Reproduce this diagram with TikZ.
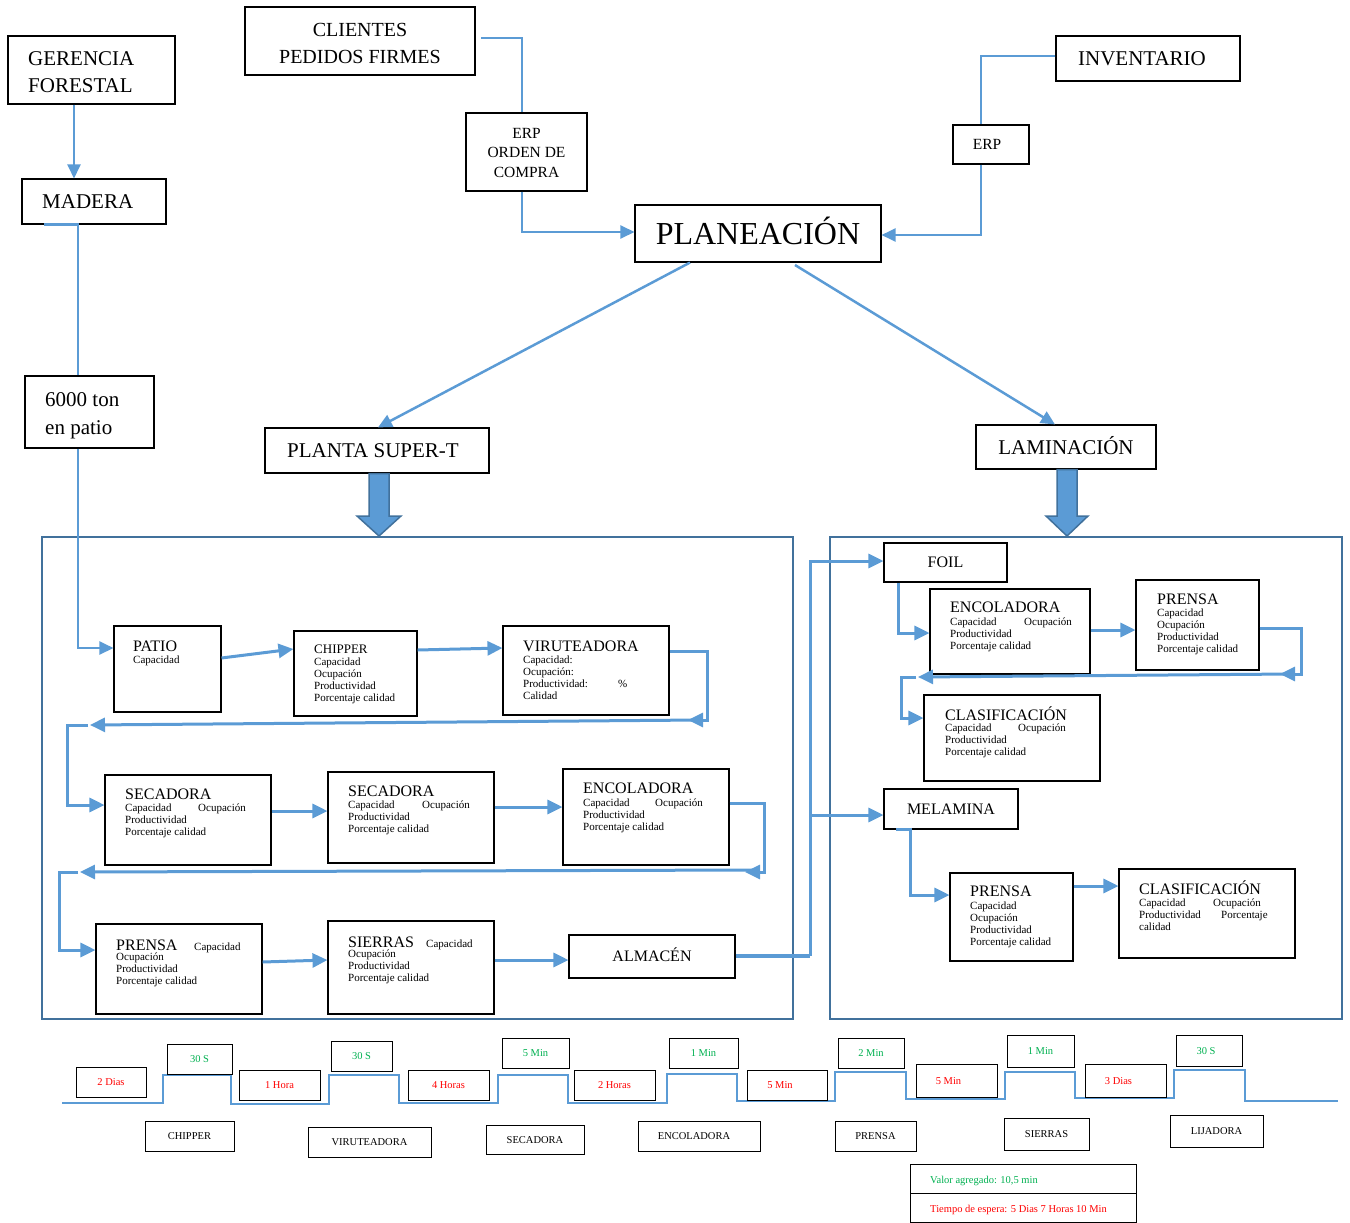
\documentclass[tikz,border=0pt]{standalone}
\usepackage{fontspec}
\setmainfont{Liberation Serif}
\usetikzlibrary{arrows.meta,fit,calc}
\definecolor{cblue}{HTML}{5B9BD5}
\definecolor{cdark}{HTML}{41719C}
\definecolor{cgreen}{HTML}{00B050}
\definecolor{cred}{HTML}{FF0000}
\tikzset{
  bx/.style={draw=black, line width=1.1pt, inner sep=0pt},
  cont/.style={draw=cdark, line width=2pt, inner sep=0pt},
  tbx/.style={draw=black, line width=1pt, inner sep=0pt},
  ctr/.style={inner sep=0pt, text depth=0pt},
  lnk/.style={draw=cblue, line width=2.5pt},
  conn/.style={draw=cblue, line width=2.5pt, -{Triangle[length=14pt,width=13pt]}},
  fconn/.style={draw=cblue, line width=3pt, -{Triangle[length=15pt,width=14pt]}},
  blockarrow/.style={fill=cblue, draw=cdark, line width=1.5pt, line join=miter},
}
\newcommand{\ttlx}[4][16]{\node[anchor=base west, inner sep=0pt, font=\fontsize{#1}{#1}\selectfont] (#2) at (#3) {#4};}
\newcommand{\bodyx}[3]{\node[anchor=north west, inner sep=0pt, align=left, font=\fontsize{11}{12}\selectfont] (#1) at (#2) {#3};}
\newcommand{\tbox}[5][0]{\node[tbx, fit={#3}] (#2) {};
  \node[ctr, text height=7pt, font=\fontsize{10.5}{12}\selectfont, text=#4] (#2t) at ([xshift=#1pt]#2.center) {#5};}
\begin{document}
\begin{tikzpicture}[x=1pt,y=-1pt]
\useasboundingbox (0,0) rectangle (1350,1223);

% ---------- top boxes ----------
\node[bx, fit={(8,36) (175,104)}] (ger) {};
\node[anchor=north west, inner sep=0pt, align=left, font=\fontsize{21}{27}\selectfont] (gert) at (28,51) {GERENCIA\\FORESTAL};
\node[bx, fit={(22,179) (166,224)}] (mad) {};
\ttlx[21]{madt}{42,208}{MADERA}
\node[bx, fit={(25,376) (154,448)}] (ton) {};
\node[anchor=north west, inner sep=0pt, align=left, font=\fontsize{21}{28}\selectfont] (tont) at (45,392) {6000 ton\\en patio};

\node[bx, fit={(245,7) (475,75)}] (cli) {};
\node[inner sep=0pt, align=center, font=\fontsize{20}{27}\selectfont] (clit) at ([yshift=-2pt]cli.center) {CLIENTES\\PEDIDOS FIRMES};
\node[bx, fit={(466,113) (587,191)}] (erp1) {};
\node[inner sep=0pt, align=center, font=\fontsize{15.5}{19.5}\selectfont] (erp1t) at ([yshift=-1pt]erp1.center) {ERP\\ORDEN DE\\COMPRA};
\node[bx, fit={(635,205) (881,262)}] (plan) {};
\node[ctr, text height=21pt, font=\fontsize{32}{36}\selectfont] (plant) at (plan.center) {PLANEACIÓN};
\node[bx, fit={(1056,36) (1240,81)}] (inv) {};
\node[ctr, text height=14pt, font=\fontsize{21}{24}\selectfont] (invt) at ([xshift=-6pt]inv.center) {INVENTARIO};
\node[bx, fit={(953,125) (1029,164)}] (erp2) {};
\node[ctr, text height=10.3pt, font=\fontsize{15.5}{18}\selectfont] (erp2t) at ([xshift=-4pt]erp2.center) {ERP};
\node[bx, fit={(265,428) (489,473)}] (planta) {};
\node[ctr, text height=14pt, font=\fontsize{21}{24}\selectfont] (plantat) at ([xshift=-4pt]planta.center) {PLANTA SUPER-T};
\node[bx, fit={(976,425) (1156,469)}] (lam) {};
\node[ctr, text height=14pt, font=\fontsize{21}{24}\selectfont] (lamt) at (lam.center) {LAMINACIÓN};

% ---------- containers ----------
\node[cont, fit={(42,537) (793,1019)}] (lc) {};
\node[cont, fit={(830,537) (1342,1019)}] (rc) {};

% block arrows
\draw[blockarrow] (369,0 |- planta.south) -- (389,0 |- planta.south) -- (389,516) -- (401,516) -- (379,0 |- lc.north) -- (357,516) -- (369,516) -- cycle;
\draw[blockarrow] (1057,0 |- lam.south) -- (1077,0 |- lam.south) -- (1077,516) -- (1088,516) -- (1067,0 |- rc.north) -- (1046,516) -- (1057,516) -- cycle;

% ---------- left container boxes ----------
\node[bx, fit={(114,626) (221,712)}] (patio) {};
\ttlx{patiot}{133,651}{PATIO}
\bodyx{patiob}{133,656}{Capacidad}

\node[bx, fit={(294,631) (417,716)}] (chip) {};
\ttlx[13]{chipt}{314,653}{CHIPPER}
\bodyx{chipb}{314,658}{Capacidad\\Ocupación\\Productividad\\Porcentaje calidad}

\node[bx, fit={(503,626) (669,715)}] (viru) {};
\ttlx{virut}{523,651}{VIRUTEADORA}
\bodyx{virub}{523,656}{Capacidad:\\Ocupación:\\\makebox[95pt][l]{Productividad:}\%\\Calidad}

\node[bx, fit={(105,775) (271,865)}] (sec1) {};
\ttlx{sec1t}{125,799}{SECADORA}
\bodyx{sec1b}{125,804}{\makebox[73pt][l]{Capacidad}Ocupación\\Productividad\\Porcentaje calidad}

\node[bx, fit={(328,772) (494,863)}] (sec2) {};
\ttlx{sec2t}{348,796}{SECADORA}
\bodyx{sec2b}{348,801}{\makebox[74pt][l]{Capacidad}Ocupación\\Productividad\\Porcentaje calidad}

\node[bx, fit={(563,769) (729,865)}] (enc) {};
\ttlx{enct}{583,793}{ENCOLADORA}
\bodyx{encb}{583,799}{\makebox[72pt][l]{Capacidad}Ocupación\\Productividad\\Porcentaje calidad}

\node[bx, fit={(96,924) (262,1014)}] (pren) {};
\ttlx{prent}{116,950}{PRENSA}
\ttlx[11]{prenc}{194,950}{Capacidad}
\bodyx{prenb}{116,953}{Ocupación\\Productividad\\Porcentaje calidad}

\node[bx, fit={(328,921) (494,1014)}] (sier) {};
\ttlx{siert}{348,947}{SIERRAS}
\ttlx[11]{sierc}{426,947}{Capacidad}
\bodyx{sierb}{348,950}{Ocupación\\Productividad\\Porcentaje calidad}

\node[bx, fit={(569,935) (735,978)}] (alm) {};
\node[ctr, text height=10.6pt, font=\fontsize{16}{18}\selectfont] (almt) at (alm.center) {ALMACÉN};

% ---------- right container boxes ----------
\node[bx, fit={(884,543) (1007,582)}] (foil) {};
\node[ctr, text height=10.6pt, font=\fontsize{16}{18}\selectfont] (foilt) at (foil.center) {FOIL};

\node[bx, fit={(930,589) (1090,674)}] (encR) {};
\ttlx{encRt}{950,612}{ENCOLADORA}
\bodyx{encRb}{950,618}{\makebox[74pt][l]{Capacidad}Ocupación\\Productividad\\Porcentaje calidad}

\node[bx, fit={(1136,580) (1259,670)}] (prR) {};
\ttlx{prRt}{1157,604}{PRENSA}
\bodyx{prRb}{1157,609}{Capacidad\\Ocupación\\Productividad\\Porcentaje calidad}

\node[bx, fit={(924,695) (1100,781)}] (clR) {};
\ttlx{clRt}{945,720}{CLASIFICACIÓN}
\bodyx{clRb}{945,724}{\makebox[73pt][l]{Capacidad}Ocupación\\Productividad\\Porcentaje calidad}

\node[bx, fit={(884,789) (1018,829)}] (mel) {};
\node[ctr, text height=10.6pt, font=\fontsize{16}{18}\selectfont] (melt) at (mel.center) {MELAMINA};

\node[bx, fit={(950,873) (1073,961)}] (pr2) {};
\ttlx{pr2t}{970,896}{PRENSA}
\bodyx{pr2b}{970,902}{Capacidad\\Ocupación\\Productividad\\Porcentaje calidad}

\node[bx, fit={(1119,869) (1295,958)}] (cl2) {};
\ttlx{cl2t}{1139,894}{CLASIFICACIÓN}
\bodyx{cl2b}{1139,899}{\makebox[74pt][l]{Capacidad}Ocupación\\\makebox[82pt][l]{Productividad}Porcentaje\\calidad}

% ---------- top connectors ----------
\draw[conn] (74,0 |- ger.south) -- (74,0 |- mad.north);
\draw[lnk] (44,0 |- mad.south) -- (78,0 |- mad.south) -- (78,0 |- ton.north);
\draw[conn] (78,0 |- ton.south) -- (78,648) -- (patio.west |- 0,648);
\draw[lnk] (481,38) -- (522,38) -- (522,0 |- erp1.north);
\draw[conn] (522,0 |- erp1.south) |- (plan.west |- 0,232);
\draw[lnk] (inv.west |- 0,56) -| (981,0 |- erp2.north);
\draw[conn] (981,0 |- erp2.south) |- (plan.east |- 0,235);
\draw[conn] (690,0 |- plan.south) -- (378,0 |- planta.north);
\draw[conn] (795,265) -- (1055,0 |- lam.north);

% ---------- left flow ----------
\coordinate (v1) at (688,720);
\coordinate (v2) at (90,725);
\coordinate (v3) at (88,725);
\coordinate (e1) at (745,872);
\coordinate (e2) at (80,872);
\coordinate (e3) at (78,872);
\draw[fconn] (patio.east |- 0,658) -- (chip.west |- 0,649);
\draw[fconn] (chip.east |- 0,650) -- (viru.west |- 0,648);
\draw[fconn] (viru.east |- 0,651) -- (707,651) -- (707,720) -- (v1);
\draw[fconn] (700,720) -- (v2);
\draw[fconn] (v3) -- (67,725) -- (67,805) -- (sec1.west |- 0,805);
\draw[fconn] (sec1.east |- 0,811) -- (sec2.west |- 0,811);
\draw[fconn] (sec2.east |- 0,807) -- (enc.west |- 0,807);
\draw[fconn] (enc.east |- 0,803) -- (764,803) -- (764,872) -- (e1);
\draw[fconn] (757,870) -- (e2);
\draw[fconn] (e3) -- (59,872) -- (59,950) -- (pren.west |- 0,950);
\draw[fconn] (pren.east |- 0,962) -- (sier.west |- 0,960);
\draw[fconn] (sier.east |- 0,960) -- (alm.west |- 0,960);
\draw[cblue, line width=4.5pt] (alm.east |- 0,956) -- (810,956);
\draw[fconn] (810,956) -- (810,561) -- (foil.west |- 0,561);
\draw[fconn] (810,815) -- (mel.west |- 0,815);

% ---------- right flow ----------
\coordinate (p1) at (1280,674);
\coordinate (p2) at (918,677);
\coordinate (p3) at (916,677);
\draw[fconn] (898,0 |- foil.south) -- (898,633) -- (encR.west |- 0,633);
\draw[fconn] (encR.east |- 0,630) -- (prR.west |- 0,630);
\draw[fconn] (prR.east |- 0,628) -- (1301,628) -- (1301,674) -- (p1);
\draw[fconn] (1292,674) -- (p2);
\draw[fconn] (p3) -- (901,677) -- (901,718) -- (clR.west |- 0,718);
\draw[fconn] (896,0 |- mel.south) -- (910,0 |- mel.south) -- (910,895) -- (pr2.west |- 0,895);
\draw[fconn] (pr2.east |- 0,886) -- (cl2.west |- 0,886);

% ---------- timeline ----------
\draw[cblue, line width=1.5pt] (62,1103) -- (163,1103) -- (163,1075) -- (231,1075) -- (231,1104) -- (329,1104) -- (329,1075) -- (399,1075) -- (399,1103) -- (498,1103) -- (498,1075) -- (568,1075) -- (568,1103) -- (667,1103) -- (667,1074) -- (737,1074) -- (737,1101) -- (835,1101) -- (835,1072) -- (906,1072) -- (906,1099) -- (1005,1099) -- (1005,1072) -- (1075,1072) -- (1075,1098) -- (1174,1098) -- (1174,1070) -- (1245,1070) -- (1245,1101) -- (1338,1101);

\tbox{w1}{(76,1067) (146,1097)}{cred}{2 Dias}
\tbox{w2}{(239,1070) (320,1100)}{cred}{1 Hora}
\tbox{w3}{(408,1070) (489,1100)}{cred}{4 Horas}
\tbox{w4}{(574,1070) (655,1100)}{cred}{2 Horas}
\tbox[-7]{w5}{(747,1070) (827,1100)}{cred}{5 Min}
\tbox[-8]{w6}{(916,1064) (997,1097)}{cred}{5 Min}
\tbox[-7]{w7}{(1085,1064) (1166,1097)}{cred}{3 Dias}

\tbox{g1}{(167,1044) (232,1074)}{cgreen}{30 S}
\tbox{g2}{(331,1041) (392,1071)}{cgreen}{30 S}
\tbox{g3}{(502,1038) (569,1068)}{cgreen}{5 Min}
\tbox{g4}{(669,1038) (738,1068)}{cgreen}{1 Min}
\tbox{g5}{(838,1038) (904,1068)}{cgreen}{2 Min}
\tbox{g6}{(1007,1035) (1074,1067)}{cgreen}{1 Min}
\tbox[-3]{g7}{(1176,1035) (1242,1066)}{cgreen}{30 S}

\tbox{l1}{(145,1121) (234,1151)}{black}{CHIPPER}
\tbox{l2}{(308,1127) (431,1157)}{black}{VIRUTEADORA}
\tbox{l3}{(486,1125) (584,1154)}{black}{SECADORA}
\tbox[-5]{l4}{(638,1121) (760,1151)}{black}{ENCOLADORA}
\tbox{l5}{(835,1121) (916,1151)}{black}{PRENSA}
\tbox{l6}{(1004,1118) (1089,1150)}{black}{SIERRAS}
\tbox{l7}{(1170,1115) (1263,1147)}{black}{LIJADORA}

\node[tbx, fit={(910,1164) (1136,1193)}] (va) {};
\node[tbx, fit={(910,1193) (1136,1222)}] (te) {};
\node[anchor=base west, inner sep=0pt, text=cgreen, font=\fontsize{10.5}{12}\selectfont] (vat) at (930,1183) {Valor agregado: 10,5 min};
\node[anchor=base west, inner sep=0pt, text=cred, font=\fontsize{10.5}{12}\selectfont] (tet) at (930,1212) {Tiempo de espera: 5 Dias 7 Horas 10 Min};
\end{tikzpicture}
\end{document}
